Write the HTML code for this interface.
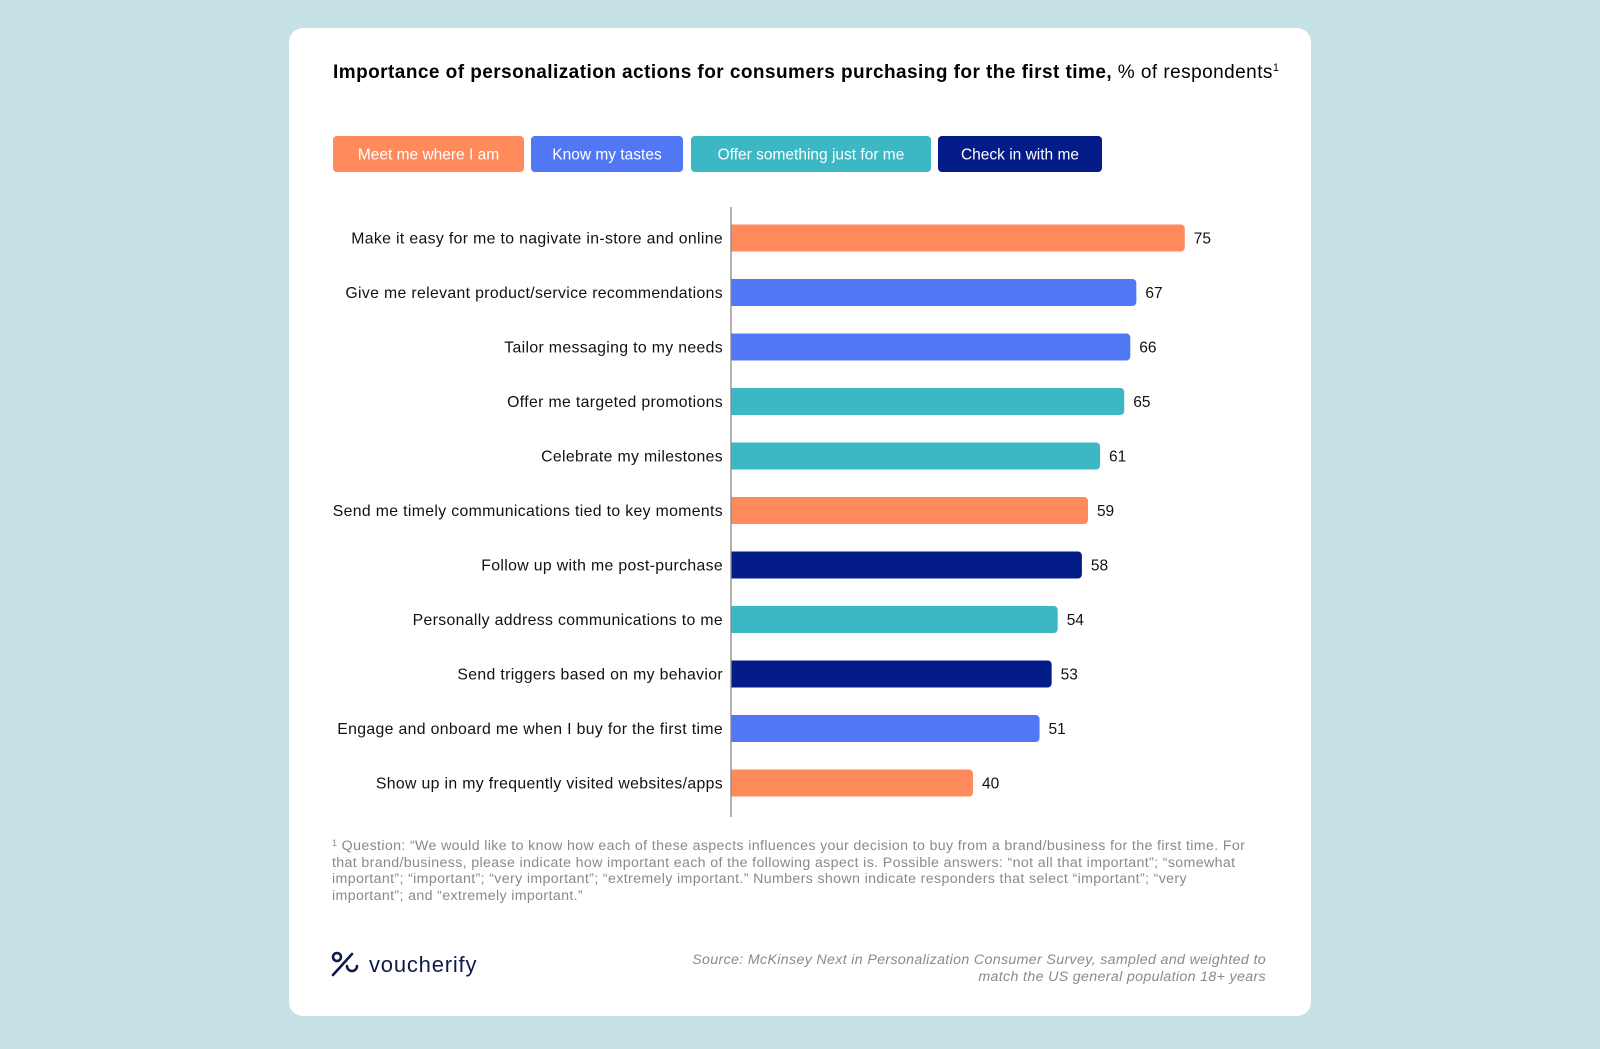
<!DOCTYPE html>
<html><head><meta charset="utf-8">
<style>
body{margin:0;background:#c6e1e6;width:1600px;height:1044px;overflow:hidden;font-family:"Liberation Sans",sans-serif;}
</style></head>
<body>
<svg width="1600" height="1044" xmlns="http://www.w3.org/2000/svg">
<rect x="289" y="28" width="1022" height="988" rx="14" fill="#fff"/>
<text x="333" y="78" font-size="19" letter-spacing="0.45" fill="#000"><tspan font-weight="bold">Importance of personalization actions for consumers purchasing for the first time,</tspan> % of respondents<tspan font-size="11" dy="-7">1</tspan></text>
<g id="legend"></g>
<g id="bars"></g>
<line x1="731" y1="207" x2="731" y2="817" stroke="#888" stroke-width="1.3"/>
<g font-size="14.2" letter-spacing="0.36" fill="#8a8a8a">
<text x="332" y="850"><tspan font-size="9" dy="-4">1</tspan><tspan dy="4"> Question: “We would like to know how each of these aspects influences your decision to buy from a brand/business for the first time. For</tspan></text>
<text x="332" y="867">that brand/business, please indicate how important each of the following aspect is. Possible answers: “not all that important”; “somewhat</text>
<text x="332" y="883">important”; “important”; “very important”; “extremely important.” Numbers shown indicate responders that select “important”; “very</text>
<text x="332" y="900">important”; and “extremely important.”</text>
</g>
<g>
<circle cx="337" cy="957" r="4" fill="none" stroke="#0d1b4a" stroke-width="2.6"/>
<line x1="333" y1="975" x2="352" y2="954" stroke="#0d1b4a" stroke-width="2.6" stroke-linecap="round"/>
<path d="M347 966 a5 5 0 0 0 10 0" fill="none" stroke="#0d1b4a" stroke-width="2.6" stroke-linecap="round"/>
<text x="369" y="972" font-size="22" fill="#0d1b4a" letter-spacing="0.8">voucherify</text>
</g>
<g font-size="14.2" letter-spacing="0.35" fill="#8a8a8a" font-style="italic" text-anchor="end">
<text x="1266" y="964">Source: McKinsey Next in Personalization Consumer Survey, sampled and weighted to</text>
<text x="1266" y="981">match the US general population 18+ years</text>
</g>
</svg>
<script>
const categories=["Make it easy for me to nagivate in-store and online","Give me relevant product/service recommendations","Tailor messaging to my needs","Offer me targeted promotions","Celebrate my milestones","Send me timely communications tied to key moments","Follow up with me post-purchase","Personally address communications to me","Send triggers based on my behavior","Engage and onboard me when I buy for the first time","Show up in my frequently visited websites/apps"];
const values=[75,67,66,65,61,59,58,54,53,51,40];
const groups=[0,1,1,2,2,0,3,2,3,1,0];
const groupNames=["Meet me where I am","Know my tastes","Offer something just for me","Check in with me"];
const colors=["#ff8a5b","#5177f5","#3cb8c4","#041c87"];
const NS="http://www.w3.org/2000/svg";
const x0=731,pxPer=6.05,yTop=238,yStep=54.5,barH=27;
const xScale=v=>v*pxPer;
const yScale=i=>yTop+i*yStep;
const bars=document.getElementById('bars');
categories.forEach((c,i)=>{
 const cy=yScale(i);
 const r=document.createElementNS(NS,'rect');
 
 
 r.setAttribute('x',x0);r.setAttribute('y',cy-barH/2);r.setAttribute('width',xScale(values[i]));r.setAttribute('height',barH);r.setAttribute('rx',4);r.setAttribute('fill',colors[groups[i]]);
 bars.appendChild(r);
 const r2=document.createElementNS(NS,'rect');
 
 
 r2.setAttribute('x',x0);r2.setAttribute('y',cy-barH/2);r2.setAttribute('width',6);r2.setAttribute('height',barH);r2.setAttribute('fill',colors[groups[i]]);
 bars.appendChild(r2);
 const t=document.createElementNS(NS,'text');
 
 
 t.setAttribute('x',723);t.setAttribute('y',cy+5.5);t.setAttribute('text-anchor','end');t.setAttribute('font-size','15.8');t.setAttribute('letter-spacing','0.35');t.setAttribute('fill','#111');
 t.textContent=c;bars.appendChild(t);
 const v=document.createElementNS(NS,'text');
 
 
 v.setAttribute('x',x0+xScale(values[i])+9);v.setAttribute('y',cy+5.5);v.setAttribute('font-size','15.5');v.setAttribute('fill','#111');
 v.textContent=values[i];bars.appendChild(v);
});
const legend=document.getElementById('legend');
const lx=[333,531,691,938],lw=[191,152,240,164];
groupNames.forEach((g,i)=>{
 const r=document.createElementNS(NS,'rect');
 
 
 r.setAttribute('x',lx[i]);r.setAttribute('y',136);r.setAttribute('width',lw[i]);r.setAttribute('height',36);r.setAttribute('rx',4);r.setAttribute('fill',colors[i]);
 legend.appendChild(r);
 const t=document.createElementNS(NS,'text');
 
 
 t.setAttribute('x',lx[i]+lw[i]/2);t.setAttribute('y',159.5);t.setAttribute('text-anchor','middle');t.setAttribute('font-size','15.5');t.setAttribute('fill','#fff');
 t.textContent=g;legend.appendChild(t);
});
</script>
</body></html>
